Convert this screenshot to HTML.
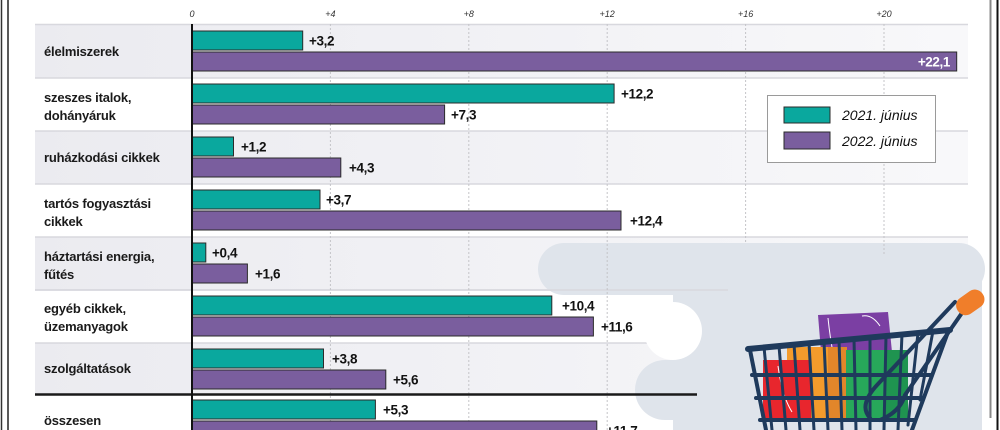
<!DOCTYPE html>
<html><head><meta charset="utf-8"><style>
html,body{margin:0;padding:0;background:#fff;}
svg{display:block;}
.cat{font-family:"Liberation Sans",sans-serif;font-weight:bold;font-size:13px;fill:#1a1a1a;letter-spacing:-0.2px;}
.val{font-family:"Liberation Sans",sans-serif;font-weight:bold;font-size:13.5px;fill:#111;letter-spacing:-0.4px;}
.tick{font-family:"Liberation Sans",sans-serif;font-style:italic;font-size:9px;fill:#333;}
.leg{font-family:"Liberation Sans",sans-serif;font-style:italic;font-size:14px;fill:#111;}
</style></head><body>
<svg width="1000" height="430" viewBox="0 0 1000 430" xmlns="http://www.w3.org/2000/svg">
<defs>
<linearGradient id="g" x1="0" x2="1" y1="0" y2="0"><stop offset="0" stop-color="#ebebf0"/><stop offset="1" stop-color="#f8f8fa"/></linearGradient>
</defs>
<rect width="1000" height="430" fill="#fff"/>
<rect x="35" y="25" width="933" height="53" fill="url(#g)"/>
<rect x="35" y="131" width="933" height="53" fill="url(#g)"/>
<rect x="35" y="237" width="933" height="53" fill="url(#g)"/>
<rect x="35" y="343" width="933" height="51" fill="url(#g)"/>
<g stroke="#d8d8de" stroke-width="1.5">
<line x1="35" y1="24.5" x2="968" y2="24.5"/>
<line x1="35" y1="78" x2="968" y2="78"/>
<line x1="35" y1="131" x2="968" y2="131"/>
<line x1="35" y1="184" x2="968" y2="184"/>
<line x1="35" y1="237" x2="968" y2="237"/>
<line x1="35" y1="290" x2="968" y2="290"/>
<line x1="35" y1="343" x2="968" y2="343"/>
</g>
<g fill="#dfe4eb">
<rect x="538" y="243" width="447" height="52" rx="26"/>
<rect x="673" y="268" width="309" height="162"/>
</g>
<circle cx="673" cy="331" r="29" fill="#fff"/>
<rect x="635" y="360" width="240" height="60" rx="30" fill="#dfe4eb"/>
<line x1="35" y1="290" x2="728" y2="290" stroke="#d8d8de" stroke-width="1.5"/>
<g stroke="#c4c4c8" stroke-width="1" stroke-dasharray="2,2">
<line x1="330.4" y1="24" x2="330.4" y2="430"/>
<line x1="468.8" y1="24" x2="468.8" y2="430"/>
<line x1="607.2" y1="24" x2="607.2" y2="430"/>
<line x1="745.6" y1="24" x2="745.6" y2="243"/>
<line x1="884" y1="24" x2="884" y2="255"/>
</g>
<g class="tick" text-anchor="middle">
<text x="192" y="17">0</text>
<text x="330.4" y="17">+4</text>
<text x="468.8" y="17">+8</text>
<text x="607.2" y="17">+12</text>
<text x="745.6" y="17">+16</text>
<text x="884" y="17">+20</text>
</g>
<line x1="35" y1="394.5" x2="697" y2="394.5" stroke="#1a1a1a" stroke-width="2.5"/>
<g stroke="#2b2b2b" stroke-width="1">
<rect x="192" y="31" width="110.7" height="19" fill="#0aa89e"/>
<rect x="192" y="52" width="764.7" height="19" fill="#7a5e9e"/>
<rect x="192" y="84" width="422.1" height="19" fill="#0aa89e"/>
<rect x="192" y="105" width="252.6" height="19" fill="#7a5e9e"/>
<rect x="192" y="137" width="41.5" height="19" fill="#0aa89e"/>
<rect x="192" y="158" width="148.8" height="19" fill="#7a5e9e"/>
<rect x="192" y="190" width="128" height="19" fill="#0aa89e"/>
<rect x="192" y="211" width="429" height="19" fill="#7a5e9e"/>
<rect x="192" y="243" width="13.8" height="19" fill="#0aa89e"/>
<rect x="192" y="264" width="55.4" height="19" fill="#7a5e9e"/>
<rect x="192" y="296" width="359.8" height="19" fill="#0aa89e"/>
<rect x="192" y="317" width="401.4" height="19" fill="#7a5e9e"/>
<rect x="192" y="349" width="131.5" height="19" fill="#0aa89e"/>
<rect x="192" y="370" width="193.8" height="19" fill="#7a5e9e"/>
<rect x="192" y="400" width="183.4" height="19" fill="#0aa89e"/>
<rect x="192" y="421" width="404.8" height="19" fill="#7a5e9e"/>
</g>
<line x1="192" y1="24" x2="192" y2="430" stroke="#111" stroke-width="2"/>
<g class="val">
<text x="309" y="45.5">+3,2</text>
<text x="950" y="66.5" text-anchor="end" style="fill:#fff">+22,1</text>
<text x="621" y="98.5">+12,2</text>
<text x="451" y="119.5">+7,3</text>
<text x="241" y="151.5">+1,2</text>
<text x="349" y="172.5">+4,3</text>
<text x="326" y="204.5">+3,7</text>
<text x="630" y="225.5">+12,4</text>
<text x="212" y="257.5">+0,4</text>
<text x="255" y="278.5">+1,6</text>
<text x="562" y="310.5">+10,4</text>
<text x="601" y="331.5">+11,6</text>
<text x="332" y="363.5">+3,8</text>
<text x="393" y="384.5">+5,6</text>
<text x="383" y="414.5">+5,3</text>
<text x="606" y="435.5">+11,7</text>
</g>
<g class="cat">
<text x="44" y="56">élelmiszerek</text>
<text x="44" y="102">szeszes italok,</text>
<text x="44" y="120">dohányáruk</text>
<text x="44" y="162">ruházkodási cikkek</text>
<text x="44" y="208">tartós fogyasztási</text>
<text x="44" y="226">cikkek</text>
<text x="44" y="261">háztartási energia,</text>
<text x="44" y="279">fűtés</text>
<text x="44" y="313">egyéb cikkek,</text>
<text x="44" y="331">üzemanyagok</text>
<text x="44" y="373">szolgáltatások</text>
<text x="44" y="425">összesen</text>
</g>
<rect x="767.5" y="95.5" width="168" height="67" fill="#fff" stroke="#9a9a9a" stroke-width="1"/>
<rect x="784" y="107" width="46" height="16" fill="#0aa89e" stroke="#2b2b2b" stroke-width="1"/>
<rect x="784" y="132" width="46" height="17" fill="#7a5e9e" stroke="#2b2b2b" stroke-width="1"/>
<text class="leg" x="842" y="120">2021. június</text>
<text class="leg" x="842" y="146">2022. június</text>
<g>
<polygon points="818,315 888,312 893,362 822,364" fill="#7b3fa3"/>
<path d="M828 318 q2 20 6 40 M862 316 q10 -2 18 10" stroke="#fff" stroke-width="1" fill="none"/>
<rect x="787" y="347" width="60" height="72" fill="#f39b2c"/>
<rect x="828" y="347" width="19" height="72" fill="#e2862a"/>
<rect x="763" y="360" width="48" height="62" fill="#e8262d"/>
<path d="M778 366 q4 30 14 46" stroke="#fff" stroke-width="1" fill="none"/>
<rect x="846" y="350" width="62" height="72" fill="#27a85a"/>
<rect x="885" y="350" width="23" height="72" fill="#1f9450"/>
<g stroke="#1f3a5c" stroke-linecap="round" fill="none">
<path d="M748 349 L950 330" stroke-width="6"/>
<path d="M750 350 L766 430" stroke-width="4"/>
<path d="M948 332 L912 430" stroke-width="4"/>
<path d="M752 375 L932 375" stroke-width="4"/>
<path d="M756 398 L922 398" stroke-width="4"/>
<path d="M760 420 L915 420" stroke-width="4"/>
<g stroke-width="3">
<path d="M772 430 L764 347"/>
<path d="M786 430 L779 346"/>
<path d="M800 430 L794 344"/>
<path d="M814 430 L809 343"/>
<path d="M828 430 L824 342"/>
<path d="M842 430 L839 340"/>
<path d="M856 430 L854 339"/>
<path d="M870 430 L870 337"/>
<path d="M884 430 L886 336"/>
<path d="M898 430 L902 334"/>
<path d="M908 425 L918 333"/>
<path d="M920 400 L933 331"/>
</g>
<path d="M870 418 Q858 405 878 384 L955 302" stroke-width="4"/>
<path d="M880 420 Q900 412 905 395 L964 310" stroke-width="4"/>
</g>
<rect x="955" y="293" width="30" height="19" rx="9" fill="#f07e2a" transform="rotate(-35 970 302)"/>
</g>
<line x1="1.5" y1="0" x2="1.5" y2="430" stroke="#333" stroke-width="1.5"/>
<line x1="8" y1="0" x2="8" y2="430" stroke="#222" stroke-width="1.5"/>
<line x1="990.5" y1="0" x2="990.5" y2="418" stroke="#888" stroke-width="2"/>
<line x1="997.5" y1="0" x2="997.5" y2="430" stroke="#111" stroke-width="2"/>
</svg>
</body></html>
